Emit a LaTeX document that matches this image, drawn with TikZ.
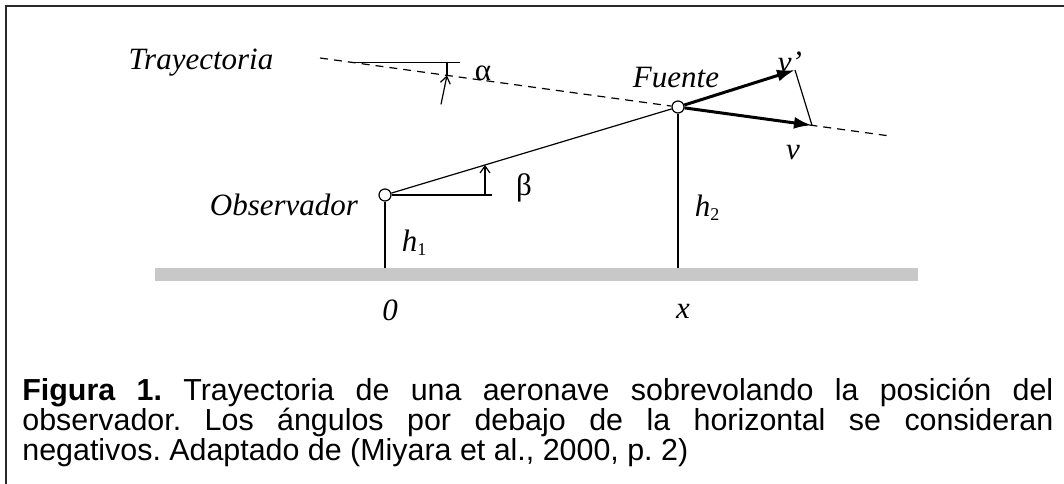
\documentclass[tikz,border=0pt]{standalone}
\usepackage{fontspec}
\setmainfont{Liberation Serif}
\setsansfont{Liberation Sans}
\usetikzlibrary{arrows.meta,calc}
\definecolor{groundgray}{RGB}{200,200,200}
\definecolor{framegray}{RGB}{40,40,40}
\tikzset{
  lbl/.style={font=\fontsize{15.5}{17}\selectfont\itshape, inner sep=0pt},
  grk/.style={font=\fontsize{15.5}{17}\selectfont, inner sep=0pt},
  capline/.style={anchor=base west, inner sep=0pt, font=\sffamily\fontsize{15.2}{17}\selectfont\frenchspacing},
  pivot/.style={circle, draw, fill=white, inner sep=0pt, minimum size=6pt, line width=0.6pt},
  thinline/.style={line width=0.6pt},
  traj/.style={line width=0.6pt, dash pattern=on 4pt off 3pt},
  vec/.style={line width=1.5pt, -{Latex[length=9pt,width=6pt]}},
  angarrow/.style={line width=0.6pt, -{Straight Barb[length=3.5pt,width=5pt]}}
}
\newcommand{\subidx}[1]{\raisebox{-2pt}{\fontsize{9}{9}\selectfont\upshape #1}}
\begin{document}
\frenchspacing
\begin{tikzpicture}[x=0.5pt,y=-0.5pt]
\useasboundingbox (0,0) rectangle (1064,483);
\clip (0,0) rectangle (1064,483);
% frame
\draw[framegray, line width=1pt] (6,6) rectangle (1090,510);
% ground
\fill[groundgray] (155,268) rectangle (918,281);
% points
\node[pivot] (obs) at (385,195) {};
\node[pivot] (src) at (678,107) {};
\coordinate (g1) at (385,268);
\coordinate (g2) at (678,268);
\coordinate (t0) at (320,58);
\coordinate (t1) at (890,136);
% trajectory
\draw[traj] (t0) -- (src);
\draw[traj] (src) -- (t1);
% alpha reference
\coordinate (ah0) at ($(t0)!0.0894!(src)$);
\coordinate (ah1) at ($(ah0)+(108,0)$);
\draw[thinline] (ah0) -- (ah1);
\coordinate (at) at ($(t0)!0.3547!(src)$);
\coordinate (atop) at (at |- ah0);
\coordinate (atail) at ($(at)+(-6,29)$);
\draw[thinline] (atop) -- (at);
\draw[angarrow] (atail) -- (at);
% heights
\draw[thinline] (obs) -- (g1);
\draw[thinline] (src) -- (g2);
% sight line and beta
\draw[thinline] (obs) -- (src);
\coordinate (bh) at ($(obs)+(107,0)$);
\draw[thinline] (obs) -- (bh);
\coordinate (bt) at ($(obs)!0.3413!(src)$);
\coordinate (bb) at (bt |- obs);
\draw[angarrow] (bb) -- (bt);
% velocity vectors
\coordinate (vp) at (795,70);
\coordinate (vt) at ($(src)!0.632!(t1)$);
\draw[thinline] (vp) -- (vt);
\draw[vec] (src) -- (vp);
\draw[vec] (src) -- (vt);
% labels
\node[lbl] (ltraj) at (201,63) {Trayectoria};
\node[lbl] (lfuente) at (676,78) {Fuente};
\node[lbl] (lobs) at (284,205) {Observador};
\node[grk] (lalpha) at (483,73) {α};
\node[grk] (lbeta) at (524,188) {β};
\node[lbl] (lh1) at (414,243) {h\subidx{1}};
\node[lbl] (lh2) at (707,208) {h\subidx{2}};
\node[lbl] (lvp) at (790,62) {v’};
\node[lbl] (lv) at (793,153) {v};
\node[lbl] (l0) at (390,310) {0};
\node[lbl] (lx) at (683,311) {x};
% caption
\node[capline] (cap1) at (22,400) {\makebox[515.5pt][s]{\textbf{Figura 1.} Trayectoria de una aeronave sobrevolando la posición del}};
\node[capline] (cap2) at (22,430) {\makebox[515.5pt][s]{observador. Los ángulos por debajo de la horizontal se consideran}};
\node[capline] (cap3) at (22,460) {negativos. Adaptado de (Miyara et al., 2000, p. 2)};
\end{tikzpicture}
\end{document}
